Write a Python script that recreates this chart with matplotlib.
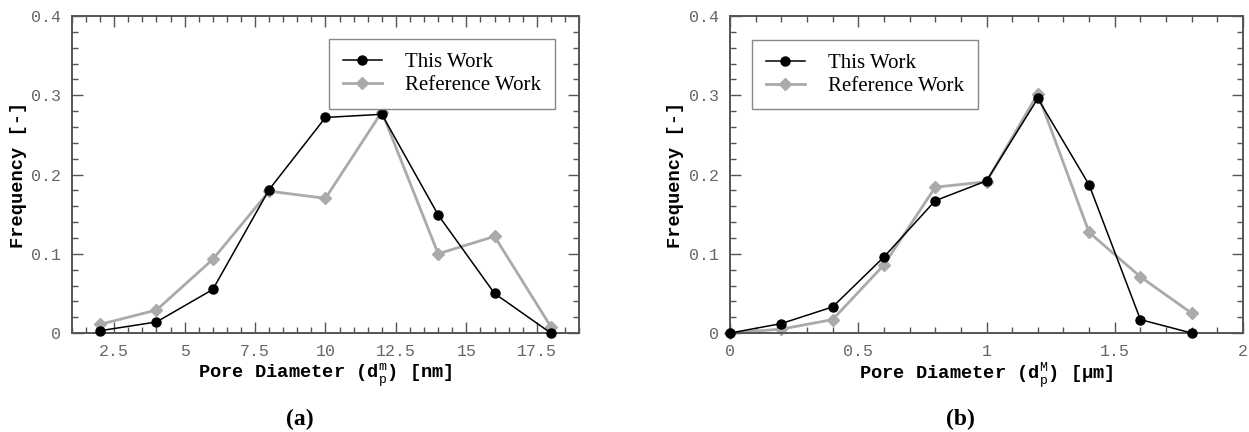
import numpy as np
import matplotlib.pyplot as plt
from matplotlib.ticker import MultipleLocator, FuncFormatter

# panel (a): mesopores, nm
x_a = [2, 4, 6, 8, 10, 12, 14, 16, 18]
this_a = [0.003, 0.014, 0.055, 0.181, 0.272, 0.276, 0.149, 0.050, 0.000]
ref_a = [0.011, 0.029, 0.093, 0.179, 0.170, 0.279, 0.100, 0.122, 0.008]

# panel (b): macropores, um
x_b = [0.0, 0.2, 0.4, 0.6, 0.8, 1.0, 1.2, 1.4, 1.6, 1.8]
this_b = [0.000, 0.012, 0.033, 0.096, 0.167, 0.192, 0.296, 0.187, 0.017, 0.000]
ref_b = [0.000, 0.005, 0.017, 0.086, 0.184, 0.191, 0.302, 0.127, 0.071, 0.025]

plt.rcParams['mathtext.fontset'] = 'custom'
plt.rcParams['mathtext.rm'] = 'Liberation Mono'
plt.rcParams['mathtext.bf'] = 'Liberation Mono:bold'

mono = 'Liberation Mono'
serif = 'Liberation Serif'
spine_c = '#555555'
tick_c = '#666666'
gray = '#aaaaaa'


def fmt(v, pos):
    return f'{v:g}'


fig = plt.figure(figsize=(12.49, 4.32), dpi=100)
ax1 = fig.add_axes([0.0576, 0.229, 0.406, 0.734])
ax2 = fig.add_axes([0.5845, 0.229, 0.4107, 0.734])

panels = [
    (ax1, x_a, this_a, ref_a, (1, 19), 2.5, 0.5,
     r'Pore Diameter ($\mathbf{d}_\mathrm{p}^\mathrm{m}$) [nm]', (0.507, 0.927), '(a)'),
    (ax2, x_b, this_b, ref_b, (0, 2), 0.5, 0.1,
     r'Pore Diameter ($\mathbf{d}_\mathrm{p}^\mathrm{M}$) [μm]', (0.043, 0.924), '(b)'),
]

for ax, x, tw, rw, xl, maj, mnr, xlab, lpos, tag in panels:
    lr, = ax.plot(x, rw, color=gray, lw=2, marker='D', ms=6.5,
                  mfc=gray, mec=gray, zorder=2, clip_on=False)
    lt, = ax.plot(x, tw, color='black', lw=1.1, marker='o', ms=6.5,
                  zorder=3, clip_on=False)
    ax.set_xlim(*xl)
    ax.set_ylim(0, 0.4)
    ax.xaxis.set_major_locator(MultipleLocator(maj))
    ax.xaxis.set_minor_locator(MultipleLocator(mnr))
    ax.yaxis.set_major_locator(MultipleLocator(0.1))
    ax.yaxis.set_minor_locator(MultipleLocator(0.02))
    ax.xaxis.set_major_formatter(FuncFormatter(fmt))
    ax.yaxis.set_major_formatter(FuncFormatter(fmt))
    ax.tick_params(which='both', direction='in', top=True, right=True,
                   color=spine_c, labelcolor=tick_c, labelsize=12)
    ax.tick_params(which='major', length=8, width=1, pad=8)
    ax.tick_params(which='minor', length=4, width=1)
    for lab in ax.get_xticklabels() + ax.get_yticklabels():
        lab.set_fontfamily(mono)
    for sp in ax.spines.values():
        sp.set_color(spine_c)
        sp.set_linewidth(1.4)
    ax.set_xlabel(xlab, fontfamily=mono, fontweight='bold', fontsize=13.5, va='center')
    ax.set_ylabel('Frequency [-]', fontfamily=mono, fontweight='bold', fontsize=13.5, va='center')
    ax.xaxis.set_label_coords(0.5, -0.132)
    ax.yaxis.set_label_coords(-0.106, 0.5)
    leg = ax.legend([lt, lr], ['This Work', 'Reference Work'], loc='upper left',
                    bbox_to_anchor=lpos, borderaxespad=0, fancybox=False,
                    framealpha=1, edgecolor='#888888', prop={'family': serif, 'size': 15},
                    handlelength=1.9, handletextpad=1.1, borderpad=0.65,
                    labelspacing=0.15)
    leg.get_frame().set_linewidth(1)
    bb = ax.get_position()
    fig.text(bb.x0 + bb.width * 0.45, 0.028, tag, ha='center', va='center',
             fontfamily=serif, fontweight='bold', fontsize=17)

fig.savefig('out.png', dpi=100)
